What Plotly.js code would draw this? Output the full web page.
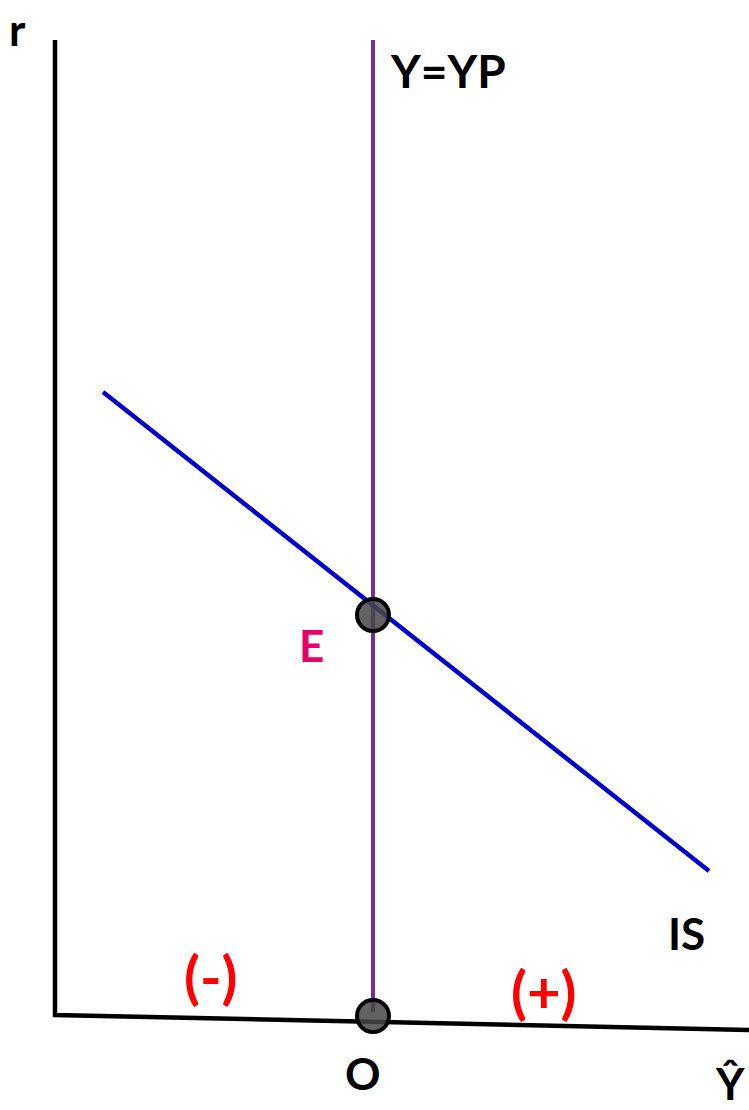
<!DOCTYPE html>
<html>
<head>
<meta charset="utf-8">
<script src="https://cdn.plot.ly/plotly-3.0.1.min.js"></script>
<style>html,body{margin:0;padding:0;background:#fff;}#chart{width:749px;height:1110px;}</style>
</head>
<body>
<div id="chart"></div>
<script>
// Coordinates in the diagram's own units (y grows downward)
const axisX = [55, 55, 749];
const axisY = [40, 1015, 1030];
const ypX = [373, 373];
const ypY = [40, 1012];
const isX = [103, 709];
const isY = [392, 871];
const pointX = [373, 373];
const pointY = [615, 1016];

const labelText = ["r", "Y=YP", "E", "IS", "(-)", "(+)", "O", "Ŷ"];
const labelX = [17, 448, 311, 686, 210, 543, 363, 746];
const labelY = [2, 70, 645, 933, 975, 990, 1073, 1110];
const labelXAnchor = ["center", "center", "center", "center", "center", "center", "center", "right"];
const labelYAnchor = ["top", "middle", "middle", "middle", "middle", "middle", "middle", "bottom"];
const labelColor = ["#000", "#000", "#E5006E", "#000", "#FF0000", "#FF0000", "#000", "#000"];
const labelSize = [44, 46, 44, 44, 58, 58, 44, 44];

const traces = [
  {x: axisX, y: axisY, mode: "lines", line: {color: "#000", width: 4.5}, hoverinfo: "skip"},
  {x: ypX, y: ypY, mode: "lines", line: {color: "#7030A0", width: 4}, hoverinfo: "skip"},
  {x: isX, y: isY, mode: "lines", line: {color: "#0000CC", width: 4.5}, hoverinfo: "skip"},
  {x: pointX, y: pointY, mode: "markers",
   marker: {size: 32, color: "rgba(70,70,70,0.85)", line: {color: "#000", width: 4}}, hoverinfo: "skip"}
];

const annotations = labelText.map((t, i) => ({
  x: labelX[i], y: labelY[i], xref: "x", yref: "y", text: "<b>" + t + "</b>",
  showarrow: false, xanchor: labelXAnchor[i], yanchor: labelYAnchor[i], borderpad: 0,
  font: {family: "Lato, 'Open Sans', sans-serif", size: labelSize[i], color: labelColor[i]}
}));

const layout = {
  width: 749, height: 1110,
  margin: {l: 0, r: 0, t: 0, b: 0},
  paper_bgcolor: "#fff", plot_bgcolor: "#fff",
  showlegend: false,
  xaxis: {range: [0, 749], visible: false, fixedrange: true},
  yaxis: {range: [1110, 0], visible: false, fixedrange: true},
  annotations: annotations
};

Plotly.newPlot("chart", traces, layout, {displayModeBar: false, staticPlot: true});
</script>
</body>
</html>
